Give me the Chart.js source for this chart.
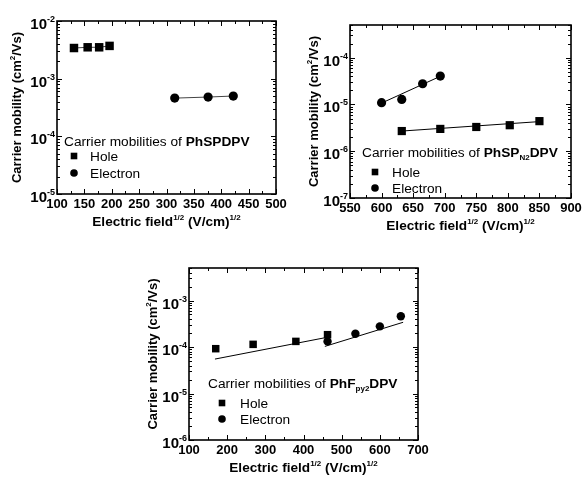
<!DOCTYPE html>
<html>
<head>
<meta charset="utf-8">
<script src="https://cdn.jsdelivr.net/npm/chart.js@4.4.0/dist/chart.umd.min.js"></script>
<style>
  html, body { margin: 0; padding: 0; background: #fff; }
  #wrap { position: relative; width: 584px; height: 478px; }
  canvas { position: absolute; left: 0; top: 0; }
</style>
</head>
<body>
<div id="wrap">
  <canvas id="chartA" width="584" height="478"></canvas>
  <canvas id="chartB" width="584" height="478"></canvas>
  <canvas id="chartC" width="584" height="478"></canvas>
</div>
<script>
const W = 584, H = 478;
const FONT = '"Liberation Sans", Arial, Helvetica, sans-serif';

// Panel A - PhSPDPV
const holeFieldA = [131, 156, 177, 196];
const holeMobA = [3.4e-3, 3.5e-3, 3.5e-3, 3.7e-3];
const elecFieldA = [315, 376, 422];
const elecMobA = [4.6e-4, 4.8e-4, 5.0e-4];
const xTicksA = [100, 150, 200, 250, 300, 350, 400, 450, 500];
const yExpA = [-5, -4, -3, -2];

// Panel B - PhSP(N2)DPV
const holeFieldB = [632, 693, 750, 803, 850];
const holeMobB = [2.7e-6, 3.0e-6, 3.3e-6, 3.6e-6, 4.4e-6];
const holeFitFieldB = [632, 850];
const holeFitMobB = [2.7e-6, 4.3e-6];
const elecFieldB = [600, 632, 665, 693];
const elecMobB = [1.09e-5, 1.28e-5, 2.77e-5, 4.04e-5];
const elecFitFieldB = [600, 693];
const elecFitMobB = [1.07e-5, 4.0e-5];
const xTicksB = [550, 600, 650, 700, 750, 800, 850, 900];
const yExpB = [-7, -6, -5, -4];

// Panel C - PhF(py2)DPV
const holeFieldC = [170, 268, 380, 463];
const holeMobC = [9.2e-5, 1.14e-4, 1.32e-4, 1.84e-4];
const holeFitFieldC = [168, 456];
const holeFitMobC = [5.5e-5, 1.58e-4];
const elecFieldC = [463, 536, 600, 655];
const elecMobC = [1.32e-4, 1.93e-4, 2.78e-4, 4.6e-4];
const elecFitFieldC = [456, 661];
const elecFitMobC = [1.03e-4, 3.4e-4];
const xTicksC = [100, 200, 300, 400, 500, 600, 700];
const yExpC = [-6, -5, -4, -3];

const pts = (xs, ys) => xs.map((x, i) => ({ x: x, y: ys[i] }));

function drawRich(ctx, parts, x, y) {
  for (const p of parts) {
    ctx.font = p.font;
    ctx.fillText(p.t, x, y + (p.dy || 0));
    x += ctx.measureText(p.t).width;
  }
}
function richWidth(ctx, parts) {
  let w = 0;
  for (const p of parts) { ctx.font = p.font; w += ctx.measureText(p.t).width; }
  return w;
}

const B13 = 'bold 13px ' + FONT;
const B14 = 'bold 13.6px ' + FONT;
const B15 = 'bold 15px ' + FONT;
const B8 = 'bold 8px ' + FONT;
const B9 = 'bold 9px ' + FONT;
const N14 = '13.7px ' + FONT;
const B14L = 'bold 13.7px ' + FONT;

const yTitle = [{ t: 'Carrier mobility (cm', font: B13 }, { t: '2', font: B8, dy: -6 }, { t: '/Vs)', font: B13 }];
const xTitle = [{ t: 'Electric field', font: B14 }, { t: '1/2', font: B8, dy: -6 }, { t: ' (V/cm)', font: B14 }, { t: '1/2', font: B8, dy: -6 }];

// axes, ticks, labels and the inside legend are drawn here
const framePlugin = {
  id: 'frame',
  afterDraw(chart) {
    const o = chart.options.plugins.frame;
    const { ctx, chartArea: a } = chart;
    const xs = chart.scales.x, ys = chart.scales.y;
    ctx.save();
    ctx.strokeStyle = '#000';
    ctx.fillStyle = '#000';

    // minor / major ticks, pointing inward
    ctx.lineWidth = 1;
    ctx.beginPath();
    for (let v = xs.min; v <= xs.max + 0.01; v += o.xMinor) {
      const px = Math.round(xs.getPixelForValue(v)) + 0.5;
      const len = o.xTicks.includes(v) ? 5 : 3;
      ctx.moveTo(px, a.bottom); ctx.lineTo(px, a.bottom - len);
      ctx.moveTo(px, a.top); ctx.lineTo(px, a.top + len);
    }
    const e0 = Math.floor(Math.log10(ys.min)), e1 = Math.ceil(Math.log10(ys.max));
    for (let e = e0; e <= e1; e++) {
      for (let m = 1; m <= 9; m++) {
        const v = m * Math.pow(10, e);
        if (v < ys.min * 0.999 || v > ys.max * 1.001) continue;
        const py = Math.round(ys.getPixelForValue(v)) + 0.5;
        const len = m === 1 ? 5 : 3;
        ctx.moveTo(a.left, py); ctx.lineTo(a.left + len, py);
        ctx.moveTo(a.right, py); ctx.lineTo(a.right - len, py);
      }
    }
    ctx.stroke();

    // frame
    ctx.lineWidth = 1.6;
    ctx.strokeRect(a.left, a.top, a.right - a.left, a.bottom - a.top);

    // x tick labels
    ctx.font = B13;
    ctx.textAlign = 'center';
    ctx.textBaseline = 'alphabetic';
    for (const v of o.xTicks) {
      ctx.fillText(String(v), xs.getPixelForValue(v), a.bottom + 14);
    }
    ctx.textAlign = 'left';

    // y tick labels 10^n
    for (const e of o.yExps) {
      const py = ys.getPixelForValue(Math.pow(10, e));
      const parts = [{ t: '10', font: B15 }, { t: String(e), font: B9, dy: -7 }];
      const w = richWidth(ctx, parts);
      drawRich(ctx, parts, a.left - 2 - w, py + 8);
    }

    // axis titles
    const cx = (a.left + a.right) / 2;
    drawRich(ctx, xTitle, cx - richWidth(ctx, xTitle) / 2, a.bottom + 32);
    ctx.save();
    ctx.translate(o.yTitleX, (a.top + a.bottom) / 2);
    ctx.rotate(-Math.PI / 2);
    drawRich(ctx, yTitle, -richWidth(ctx, yTitle) / 2, 0);
    ctx.restore();

    // legend inside the plot
    const lg = o.legend;
    drawRich(ctx, lg.title, lg.x, lg.y + 5);
    ctx.fillRect(lg.mx - 3.3, lg.r1 - 3.3, 6.6, 6.6);
    ctx.beginPath();
    ctx.arc(lg.mx, lg.r2, 3.8, 0, Math.PI * 2);
    ctx.fill();
    ctx.font = N14;
    ctx.fillText('Hole', lg.lx, lg.r1 + 5);
    ctx.fillText('Electron', lg.lx, lg.r2 + 5);
    ctx.restore();
  }
};

function makePanel(id, f, xr, yr, datasets, frameOpts) {
  return new Chart(document.getElementById(id), {
    type: 'scatter',
    data: { datasets: datasets },
    options: {
      responsive: false,
      animation: false,
      layout: { padding: { left: f.l, top: f.t, right: W - f.r, bottom: H - f.b } },
      plugins: { legend: { display: false }, tooltip: { enabled: false }, frame: frameOpts },
      scales: {
        x: { type: 'linear', min: xr[0], max: xr[1], display: false },
        y: { type: 'logarithmic', min: yr[0], max: yr[1], display: false }
      }
    },
    plugins: [framePlugin]
  });
}

function markers(data, style, r) {
  return {
    data: data, pointStyle: style, pointRadius: r, pointHoverRadius: r,
    backgroundColor: '#000', borderColor: '#000', pointBorderWidth: 0,
    showLine: false, clip: false
  };
}
function fitLine(data) {
  return {
    data: data, showLine: true, pointRadius: 0, borderColor: '#000',
    borderWidth: 1, clip: false
  };
}

// Panel A: points joined by thin lines
const holeA = markers(pts(holeFieldA, holeMobA), 'rect', 6);
holeA.showLine = true; holeA.borderColor = '#444'; holeA.borderWidth = 1;
const elecA = markers(pts(elecFieldA, elecMobA), 'circle', 4.6);
elecA.showLine = true; elecA.borderColor = '#444'; elecA.borderWidth = 1;

const legendTitle = (name, sub, tail) => {
  const parts = [{ t: 'Carrier mobilities of ', font: N14 }, { t: name, font: B14L }];
  if (sub) parts.push({ t: sub, font: B8, dy: 3 }, { t: tail, font: B14L });
  return parts;
};

makePanel('chartA', { l: 57, t: 21, r: 276, b: 194 }, [100, 500], [1e-5, 1e-2], [holeA, elecA], {
  xMinor: 25, xTicks: xTicksA, yExps: yExpA, yTitleX: 21,
  legend: { title: legendTitle('PhSPDPV'), x: 64, y: 141, mx: 74, lx: 90, r1: 156, r2: 173 }
});

makePanel('chartB', { l: 350, t: 25, r: 571, b: 198 }, [550, 900], [1e-7, 5e-4], [
  markers(pts(holeFieldB, holeMobB), 'rect', 5.8),
  markers(pts(elecFieldB, elecMobB), 'circle', 4.6),
  fitLine(pts(holeFitFieldB, holeFitMobB)),
  fitLine(pts(elecFitFieldB, elecFitMobB))
], {
  xMinor: 25, xTicks: xTicksB, yExps: yExpB, yTitleX: 318,
  legend: { title: legendTitle('PhSP', 'N2', 'DPV'), x: 362, y: 152, mx: 375, lx: 392, r1: 172, r2: 188 }
});

makePanel('chartC', { l: 189, t: 268, r: 418, b: 440 }, [100, 700], [1e-6, 5e-3], [
  markers(pts(holeFieldC, holeMobC), 'rect', 5.3),
  markers(pts(elecFieldC, elecMobC), 'circle', 4.2),
  fitLine(pts(holeFitFieldC, holeFitMobC)),
  fitLine(pts(elecFitFieldC, elecFitMobC))
], {
  xMinor: 50, xTicks: xTicksC, yExps: yExpC, yTitleX: 157,
  legend: { title: legendTitle('PhF', 'py2', 'DPV'), x: 208, y: 383, mx: 222, lx: 240, r1: 403, r2: 419 }
});
</script>
</body>
</html>
